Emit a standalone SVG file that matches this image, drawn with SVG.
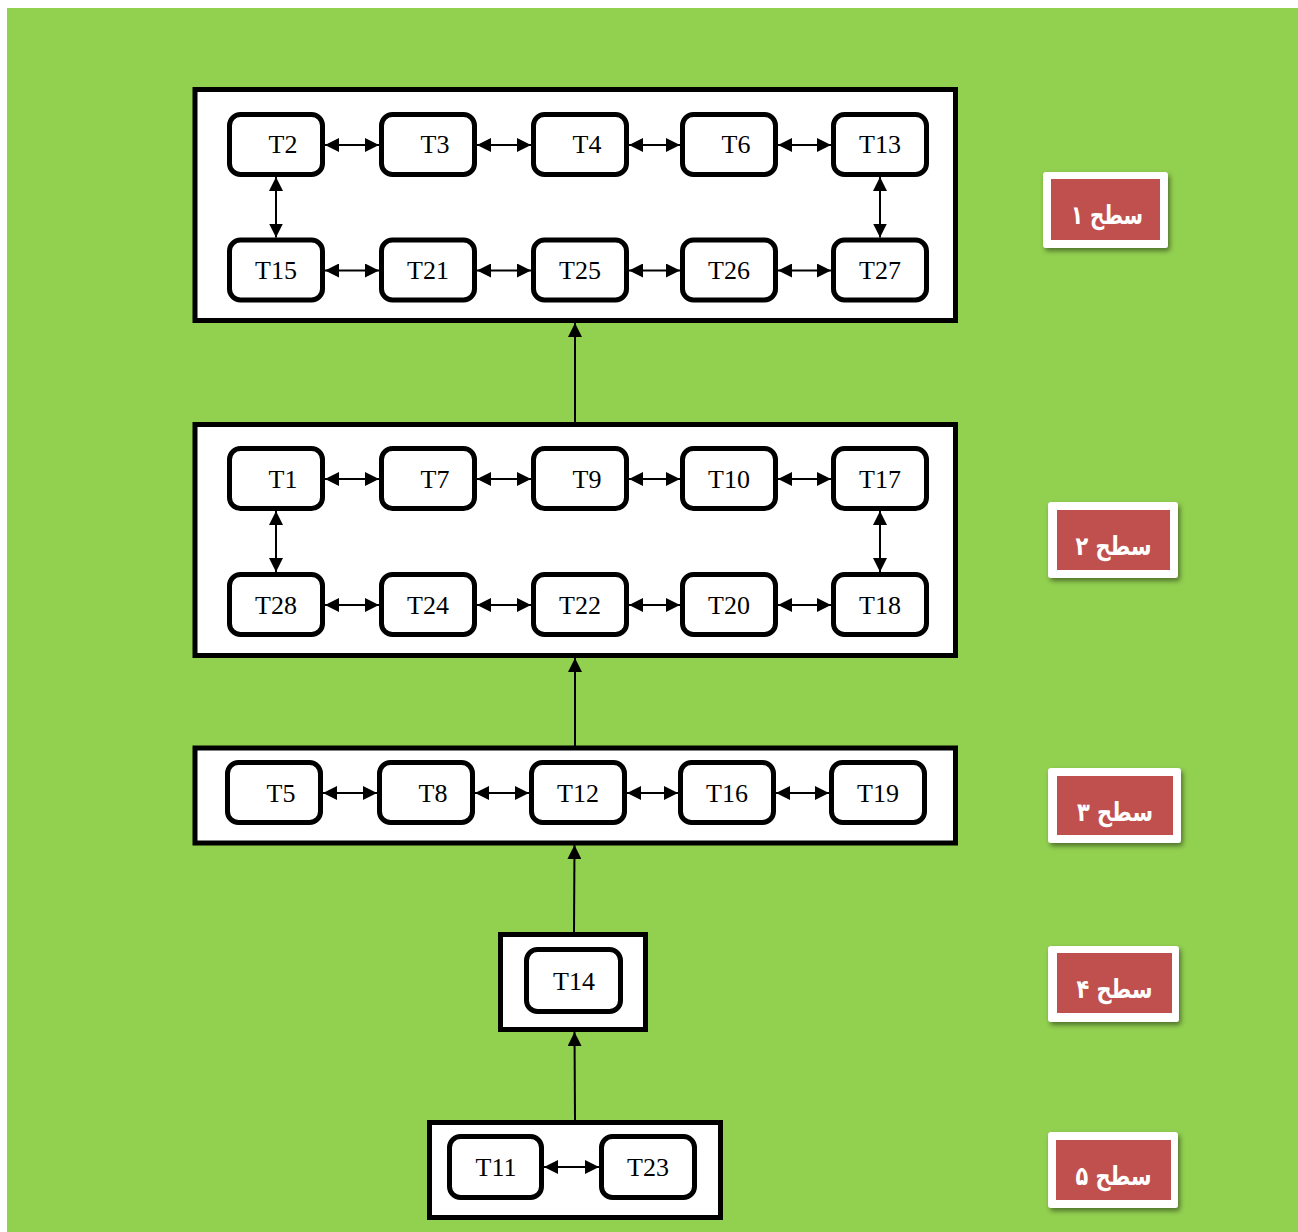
<svg xmlns="http://www.w3.org/2000/svg" width="1298" height="1232" viewBox="0 0 1298 1232">
<defs>
<marker id="ah" viewBox="0 0 14 14" refX="14" refY="7" markerWidth="14" markerHeight="14" markerUnits="userSpaceOnUse" orient="auto-start-reverse"><path d="M0,0 L14,7 L0,14 z" fill="#000"/></marker>
<filter id="sh" x="-20%" y="-20%" width="140%" height="150%"><feDropShadow dx="2" dy="3" stdDeviation="2.5" flood-color="#000" flood-opacity="0.45"/></filter>
</defs>
<style>
.box{fill:#fff;stroke:#000;stroke-width:5}
.nd{fill:#fff;stroke:#000;stroke-width:5}
.t{font-family:"Liberation Serif","Times New Roman",serif;font-size:26px;fill:#000;text-anchor:middle}
.c{stroke:#000;stroke-width:2;fill:none}
.lw{fill:#fff}
.lr{fill:#C0504D}
.lt{font-family:"DejaVu Sans",sans-serif;font-weight:bold;font-size:26px;fill:#fff;text-anchor:middle}
</style>
<rect x="0" y="0" width="1298" height="1232" fill="#fff"/>
<rect x="7" y="8" width="1291" height="1224" fill="#92D050"/>

<g id="level1">
<rect class="box" x="195" y="89.5" width="760.5" height="231"/>
<g id="T2"><rect class="nd" x="229.5" y="114.5" width="93" height="60" rx="11"/><text class="t" x="283" y="153">T2</text></g>
<g id="T3"><rect class="nd" x="381.5" y="114.5" width="93" height="60" rx="11"/><text class="t" x="435" y="153">T3</text></g>
<g id="T4"><rect class="nd" x="533.5" y="114.5" width="93" height="60" rx="11"/><text class="t" x="587" y="153">T4</text></g>
<g id="T6"><rect class="nd" x="682.5" y="114.5" width="93" height="60" rx="11"/><text class="t" x="736" y="153">T6</text></g>
<g id="T13"><rect class="nd" x="833.5" y="114.5" width="93" height="60" rx="11"/><text class="t" x="880" y="153">T13</text></g>
<g id="T15"><rect class="nd" x="229.5" y="240" width="93" height="60" rx="11"/><text class="t" x="276" y="279">T15</text></g>
<g id="T21"><rect class="nd" x="381.5" y="240" width="93" height="60" rx="11"/><text class="t" x="428" y="279">T21</text></g>
<g id="T25"><rect class="nd" x="533.5" y="240" width="93" height="60" rx="11"/><text class="t" x="580" y="279">T25</text></g>
<g id="T26"><rect class="nd" x="682.5" y="240" width="93" height="60" rx="11"/><text class="t" x="729" y="279">T26</text></g>
<g id="T27"><rect class="nd" x="833.5" y="240" width="93" height="60" rx="11"/><text class="t" x="880" y="279">T27</text></g>
</g>

<g id="level2">
<rect class="box" x="195" y="424.5" width="760.5" height="231"/>
<g id="T1"><rect class="nd" x="229.5" y="448.5" width="93" height="60" rx="11"/><text class="t" x="283" y="488">T1</text></g>
<g id="T7"><rect class="nd" x="381.5" y="448.5" width="93" height="60" rx="11"/><text class="t" x="435" y="488">T7</text></g>
<g id="T9"><rect class="nd" x="533.5" y="448.5" width="93" height="60" rx="11"/><text class="t" x="587" y="488">T9</text></g>
<g id="T10"><rect class="nd" x="682.5" y="448.5" width="93" height="60" rx="11"/><text class="t" x="729" y="488">T10</text></g>
<g id="T17"><rect class="nd" x="833.5" y="448.5" width="93" height="60" rx="11"/><text class="t" x="880" y="488">T17</text></g>
<g id="T28"><rect class="nd" x="229.5" y="574.5" width="93" height="60" rx="11"/><text class="t" x="276" y="614">T28</text></g>
<g id="T24"><rect class="nd" x="381.5" y="574.5" width="93" height="60" rx="11"/><text class="t" x="428" y="614">T24</text></g>
<g id="T22"><rect class="nd" x="533.5" y="574.5" width="93" height="60" rx="11"/><text class="t" x="580" y="614">T22</text></g>
<g id="T20"><rect class="nd" x="682.5" y="574.5" width="93" height="60" rx="11"/><text class="t" x="729" y="614">T20</text></g>
<g id="T18"><rect class="nd" x="833.5" y="574.5" width="93" height="60" rx="11"/><text class="t" x="880" y="614">T18</text></g>
</g>

<g id="level3">
<rect class="box" x="195" y="748" width="760.5" height="95"/>
<g id="T5"><rect class="nd" x="227.5" y="762.5" width="93" height="60" rx="11"/><text class="t" x="281" y="802">T5</text></g>
<g id="T8"><rect class="nd" x="379.5" y="762.5" width="93" height="60" rx="11"/><text class="t" x="433" y="802">T8</text></g>
<g id="T12"><rect class="nd" x="531.5" y="762.5" width="93" height="60" rx="11"/><text class="t" x="578" y="802">T12</text></g>
<g id="T16"><rect class="nd" x="680.5" y="762.5" width="93" height="60" rx="11"/><text class="t" x="727" y="802">T16</text></g>
<g id="T19"><rect class="nd" x="831.5" y="762.5" width="93" height="60" rx="11"/><text class="t" x="878" y="802">T19</text></g>
</g>

<g id="level4">
<rect class="box" x="500.5" y="934.5" width="145" height="95"/>
<g id="T14"><rect class="nd" x="526.5" y="949.5" width="94" height="62" rx="11"/><text class="t" x="574" y="990">T14</text></g>
</g>

<g id="level5">
<rect class="box" x="429.5" y="1122.5" width="291" height="95"/>
<g id="T11"><rect class="nd" x="449.5" y="1136.5" width="92" height="61" rx="11"/><text class="t" x="496" y="1176">T11</text></g>
<g id="T23"><rect class="nd" x="601.5" y="1136.5" width="93" height="61" rx="11"/><text class="t" x="648" y="1176">T23</text></g>
</g>

<g id="connectors">
<line class="c" x1="325" y1="145" x2="379" y2="145" marker-start="url(#ah)" marker-end="url(#ah)"/>
<line class="c" x1="477" y1="145" x2="531" y2="145" marker-start="url(#ah)" marker-end="url(#ah)"/>
<line class="c" x1="629" y1="145" x2="680" y2="145" marker-start="url(#ah)" marker-end="url(#ah)"/>
<line class="c" x1="778" y1="145" x2="831" y2="145" marker-start="url(#ah)" marker-end="url(#ah)"/>
<line class="c" x1="325" y1="270.5" x2="379" y2="270.5" marker-start="url(#ah)" marker-end="url(#ah)"/>
<line class="c" x1="477" y1="270.5" x2="531" y2="270.5" marker-start="url(#ah)" marker-end="url(#ah)"/>
<line class="c" x1="629" y1="270.5" x2="680" y2="270.5" marker-start="url(#ah)" marker-end="url(#ah)"/>
<line class="c" x1="778" y1="270.5" x2="831" y2="270.5" marker-start="url(#ah)" marker-end="url(#ah)"/>
<line class="c" x1="276" y1="177" x2="276" y2="237.5" marker-start="url(#ah)" marker-end="url(#ah)"/>
<line class="c" x1="880" y1="177" x2="880" y2="237.5" marker-start="url(#ah)" marker-end="url(#ah)"/>

<line class="c" x1="325" y1="479" x2="379" y2="479" marker-start="url(#ah)" marker-end="url(#ah)"/>
<line class="c" x1="477" y1="479" x2="531" y2="479" marker-start="url(#ah)" marker-end="url(#ah)"/>
<line class="c" x1="629" y1="479" x2="680" y2="479" marker-start="url(#ah)" marker-end="url(#ah)"/>
<line class="c" x1="778" y1="479" x2="831" y2="479" marker-start="url(#ah)" marker-end="url(#ah)"/>
<line class="c" x1="325" y1="605" x2="379" y2="605" marker-start="url(#ah)" marker-end="url(#ah)"/>
<line class="c" x1="477" y1="605" x2="531" y2="605" marker-start="url(#ah)" marker-end="url(#ah)"/>
<line class="c" x1="629" y1="605" x2="680" y2="605" marker-start="url(#ah)" marker-end="url(#ah)"/>
<line class="c" x1="778" y1="605" x2="831" y2="605" marker-start="url(#ah)" marker-end="url(#ah)"/>
<line class="c" x1="276" y1="511" x2="276" y2="572" marker-start="url(#ah)" marker-end="url(#ah)"/>
<line class="c" x1="880" y1="511" x2="880" y2="572" marker-start="url(#ah)" marker-end="url(#ah)"/>

<line class="c" x1="323" y1="793" x2="377" y2="793" marker-start="url(#ah)" marker-end="url(#ah)"/>
<line class="c" x1="475" y1="793" x2="529" y2="793" marker-start="url(#ah)" marker-end="url(#ah)"/>
<line class="c" x1="627" y1="793" x2="678" y2="793" marker-start="url(#ah)" marker-end="url(#ah)"/>
<line class="c" x1="776" y1="793" x2="829" y2="793" marker-start="url(#ah)" marker-end="url(#ah)"/>

<line class="c" x1="544" y1="1167" x2="599" y2="1167" marker-start="url(#ah)" marker-end="url(#ah)"/>

<line class="c" x1="575" y1="422" x2="575" y2="323" marker-end="url(#ah)"/>
<line class="c" x1="575" y1="746" x2="575" y2="658" marker-end="url(#ah)"/>
<line class="c" x1="574" y1="932" x2="574.5" y2="845" marker-end="url(#ah)"/>
<line class="c" x1="575" y1="1120" x2="574.5" y2="1032" marker-end="url(#ah)"/>
</g>

<g id="label1"><rect class="lw" x="1043" y="172" width="125" height="76" rx="3" filter="url(#sh)"/><rect class="lr" x="1051" y="179" width="109" height="61"/><text class="lt" x="1107" y="224" direction="rtl" textLength="72" lengthAdjust="spacingAndGlyphs">سطح ۱</text></g>
<g id="label2"><rect class="lw" x="1048" y="502" width="130" height="76" rx="3" filter="url(#sh)"/><rect class="lr" x="1057" y="510" width="113" height="60"/><text class="lt" x="1113.5" y="555" direction="rtl" textLength="76" lengthAdjust="spacingAndGlyphs">سطح ۲</text></g>
<g id="label3"><rect class="lw" x="1048" y="768" width="133" height="75" rx="3" filter="url(#sh)"/><rect class="lr" x="1057" y="776" width="116" height="59"/><text class="lt" x="1115" y="821" direction="rtl" textLength="76" lengthAdjust="spacingAndGlyphs">سطح ۳</text></g>
<g id="label4"><rect class="lw" x="1048" y="946" width="131" height="76" rx="3" filter="url(#sh)"/><rect class="lr" x="1057" y="953" width="115" height="60"/><text class="lt" x="1114.5" y="998" direction="rtl" textLength="76" lengthAdjust="spacingAndGlyphs">سطح ۴</text></g>
<g id="label5"><rect class="lw" x="1048" y="1132" width="130" height="76" rx="3" filter="url(#sh)"/><rect class="lr" x="1056" y="1140" width="115" height="60"/><text class="lt" x="1113.5" y="1185" direction="rtl" textLength="76" lengthAdjust="spacingAndGlyphs">سطح ۵</text></g>
</svg>
